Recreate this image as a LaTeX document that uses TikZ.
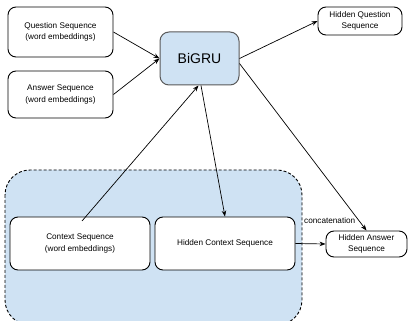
\documentclass[tikz,border=0pt]{standalone}
\usepackage{fontspec}
\setmainfont{Liberation Sans}
\usetikzlibrary{arrows.meta,calc}
\definecolor{paleblue}{HTML}{CFE2F3}
\definecolor{edgegray}{HTML}{595959}
\tikzset{
  box/.style={draw=black, line width=0.9pt, rounded corners=8pt, fill=white,
    align=center, inner sep=0pt, font=\fontsize{8.2}{11.5}\selectfont},
  core/.style={draw=edgegray, line width=1pt, rounded corners=9pt, fill=paleblue,
    inner sep=0pt, font=\fontsize{14}{16}\selectfont},
  link/.style={draw=black, line width=0.7pt, -{Stealth[length=6pt,width=4.5pt]}},
  group/.style={draw=black, line width=0.9pt, dash pattern=on 3pt off 2pt,
    fill=paleblue, rounded corners=25pt},
  tag/.style={inner sep=0pt, font=\fontsize{8.2}{10}\selectfont},
}
\begin{document}
\begin{tikzpicture}[x=1pt,y=-1pt]
  \useasboundingbox (0,0) rectangle (408,321);

  % shaded group around the context sequences
  \begin{scope}
    \clip (0,0) rectangle (408,321);
    \path[group] (5,170) rectangle (302,325);
  \end{scope}

  % input sequences and the recurrent encoder
  \node[box, minimum width=105pt, minimum height=50pt] (q) at (60.5,32)
    {Question Sequence\\(word embeddings)};
  \node[box, minimum width=105pt, minimum height=47pt] (a) at (60.5,94.5)
    {Answer Sequence\\(word embeddings)};
  \node[core, minimum width=79pt, minimum height=53pt] (bigru) at (199.5,58.5) {BiGRU};

  % outputs
  \node[box, minimum width=84pt, minimum height=28pt] (hq) at (360,21)
    {Hidden Question\\Sequence};
  \node[box, minimum width=140pt, minimum height=53pt] (ctx) at (80,243.5)
    {Context Sequence\\(word embeddings)};
  \node[box, minimum width=140pt, minimum height=53pt] (hctx) at (225,243.5)
    {Hidden Context Sequence};
  \node[box, minimum width=81pt, minimum height=26pt] (ha) at (366.5,244)
    {Hidden Answer\\Sequence};

  \coordinate (ctxsrc) at (82,221);

  % connectors
  \draw[link] (q.east) -- (bigru.west);
  \draw[link] (a.east) -- (bigru.west);
  \draw[link] (ctxsrc) -- ($(bigru.south)+(-1,0)$);
  \draw[link] ($(bigru.south)+(1.5,0)$) -- (hctx.north);
  \draw[link] (bigru.east) -- (hq.west);
  \draw[link] ($(bigru.east)+(0,5)$) -- (ha.north);
  \draw[link] (hctx.east) -- (ha.west);
  \node[tag, anchor=west] (cat) at (304,221) {concatenation};
\end{tikzpicture}
\end{document}
